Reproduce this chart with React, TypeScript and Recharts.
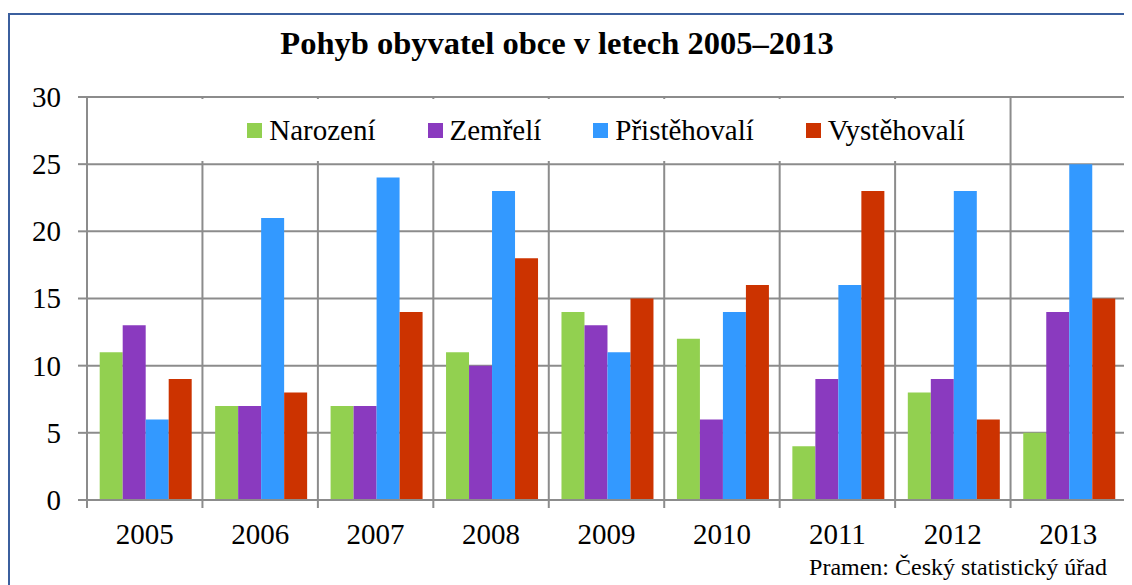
import React from 'react';
import { BarChart, Bar, XAxis, YAxis, CartesianGrid, Legend } from 'recharts';

const years = ['2005', '2006', '2007', '2008', '2009', '2010', '2011', '2012', '2013'];
const narozeni = [11, 7, 7, 11, 14, 12, 4, 8, 5];
const zemreli = [13, 7, 7, 10, 13, 6, 9, 9, 14];
const pristehovali = [6, 21, 24, 23, 11, 14, 16, 23, 25];
const vystehovali = [9, 8, 14, 18, 15, 16, 23, 6, 15];
const yTicks = [0, 5, 10, 15, 20, 25, 30];

const series = [
  { key: 'narozeni', name: 'Narození', color: '#92d050' },
  { key: 'zemreli', name: 'Zemřelí', color: '#8a3abf' },
  { key: 'pristehovali', name: 'Přistěhovalí', color: '#3399ff' },
  { key: 'vystehovali', name: 'Vystěhovalí', color: '#cc3300' },
];

const data = years.map((year, i) => ({
  year,
  narozeni: narozeni[i],
  zemreli: zemreli[i],
  pristehovali: pristehovali[i],
  vystehovali: vystehovali[i],
}));

const FONT = '"Liberation Serif", "Times New Roman", serif';
const GRID = '#8c8c8c';

// year label in the middle, tick marks on the category boundaries
const YearTick = (props: any) => {
  const { x, y, payload, index, visibleTicksCount } = props;
  const half = payload.offset ?? 0;
  const isLast = index === visibleTicksCount - 1;
  return (
    <g>
      <line x1={x - half} x2={x - half} y1={y} y2={y + 8} stroke={GRID} strokeWidth={2} />
      {isLast && <line x1={x + half} x2={x + half} y1={y} y2={y + 8} stroke={GRID} strokeWidth={2} />}
      <text x={x} y={y + 44} textAnchor="middle" fontFamily={FONT} fontSize={29} fill="#000">
        {payload.value}
      </text>
    </g>
  );
};

const ValueTick = (props: any) => {
  const { x, y, payload } = props;
  return (
    <text x={x} y={y} dy="0.34em" textAnchor="end" fontFamily={FONT} fontSize={29} fill="#000">
      {payload.value}
    </text>
  );
};

const renderLegend = (props: any) => {
  // keep the order of the series, not the alphabetical one
  const payload = [...props.payload].sort(
    (a: any, b: any) =>
      series.findIndex((s) => s.name === a.value) - series.findIndex((s) => s.name === b.value)
  );
  return (
    <div
      style={{
        display: 'flex',
        alignItems: 'center',
        justifyContent: 'center',
        height: '100%',
        paddingLeft: 12,
        boxSizing: 'border-box',
        gap: 52,
        fontFamily: FONT,
        fontSize: 29,
        color: '#000',
      }}
    >
      {payload.map((entry: any, index: number) => (
        <div key={`item-${index}`} style={{ display: 'flex', alignItems: 'center' }}>
          <span style={{ width: 15, height: 15, background: entry.color, marginRight: 7, display: 'inline-block' }}></span>
          <span>{entry.value}</span>
        </div>
      ))}
    </div>
  );
};

const App: React.FC = () => {
  return (
    <div style={{ position: 'relative', width: 1124, height: 577, overflow: 'hidden', background: '#fff' }}>
      {/* chart area border, only top and left edges are in view */}
      <div
        style={{
          position: 'absolute',
          left: 0,
          top: 5,
          width: 2000,
          height: 2000,
          border: '2px solid #3b5f9e',
        }}
      ></div>
      <div
        style={{
          position: 'absolute',
          left: 0,
          top: 19,
          width: 1098,
          textAlign: 'center',
          fontFamily: FONT,
          fontWeight: 'bold',
          fontSize: 32.5,
          lineHeight: '32px',
          color: '#000',
        }}
      >
        Pohyb obyvatel obce v letech 2005–2013
      </div>
      <div style={{ position: 'absolute', top: 0, left: 0 }}>
        <BarChart
          width={1124}
          height={577}
          data={data}
          margin={{ top: 89, right: 6, bottom: 25, left: 0 }}
          barCategoryGap="11%"
          barGap={0}
        >
          <CartesianGrid
            stroke={GRID}
            strokeWidth={2}
            verticalCoordinatesGenerator={({ offset }: any) =>
              years
                .map((_, i) => offset.left + (offset.width * i) / years.length)
                .concat(offset.left + offset.width)
            }
          />
          <XAxis
            dataKey="year"
            height={60}
            axisLine={{ stroke: GRID, strokeWidth: 2 }}
            tickLine={false}
            tickSize={0}
            tickMargin={0}
            interval={0}
            tick={<YearTick />}
          />
          <YAxis
            width={79}
            domain={[0, 30]}
            ticks={yTicks}
            interval={0}
            axisLine={{ stroke: GRID, strokeWidth: 2 }}
            tickLine={{ stroke: GRID, strokeWidth: 2 }}
            tickSize={9}
            tickMargin={17}
            tick={<ValueTick />}
          />
          <Legend
            layout="vertical"
            verticalAlign="middle"
            align="center"
            content={renderLegend}
            wrapperStyle={{ position: 'absolute', top: 91, left: 187, width: 810, height: 62, background: '#fff' }}
          />
          {series.map((s) => (
            <Bar key={s.key} dataKey={s.key} name={s.name} fill={s.color} isAnimationActive={false} />
          ))}
        </BarChart>
      </div>
      <div
        style={{
          position: 'absolute',
          right: 25,
          top: 547,
          fontFamily: FONT,
          fontSize: 24,
          lineHeight: '24px',
          color: '#000',
          whiteSpace: 'nowrap',
        }}
      >
        Pramen: Český statistický úřad
      </div>
    </div>
  );
};

export default App;
